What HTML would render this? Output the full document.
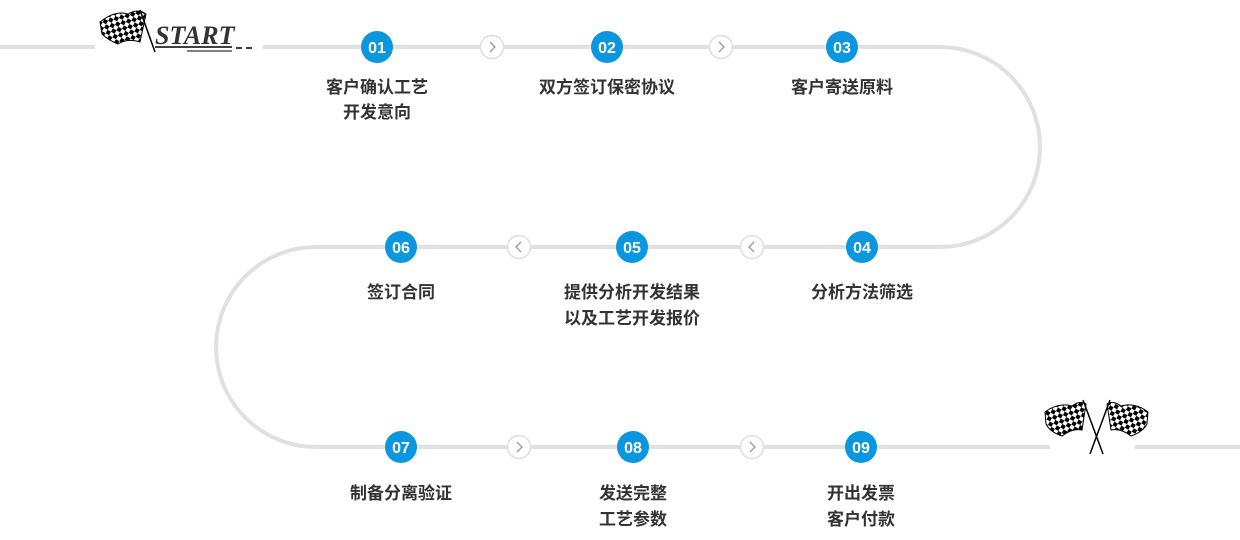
<!DOCTYPE html>
<html><head><meta charset="utf-8"><style>
html,body{margin:0;padding:0;background:#fff;width:1240px;height:540px;overflow:hidden}
svg{display:block}
.n{font-family:"Liberation Sans",sans-serif;font-weight:bold;font-size:16px;fill:#fff}
.t{font-family:"Liberation Sans","Noto Sans CJK SC",sans-serif;font-size:17px;fill:#333;font-weight:bold}
</style></head><body>
<svg width="1240" height="540" viewBox="0 0 1240 540">
<defs>
<pattern id="ck" width="8" height="8" patternUnits="userSpaceOnUse" patternTransform="rotate(30)">
<rect width="8" height="8" fill="#fff"/><rect width="4" height="4" fill="#000"/><rect x="4" y="4" width="4" height="4" fill="#000"/>
</pattern>
</defs>
<g fill="none" stroke="#e0e0e0" stroke-width="4">
<path d="M0 47H95M263 47H940A100 100 0 0 1 940 247H316A100 100 0 0 0 316 447H1050M1135 447H1240"/>
</g>
<path d="M100 22 Q115 10 128 14 Q138 8 146 14 L140 42 Q128 38 118 44 Q108 40 102 34 Z" fill="url(#ck)" stroke="#000" stroke-width="1"/>
<line x1="140" y1="10" x2="155" y2="52" stroke="#000" stroke-width="1.5"/>
<text x="155" y="44" font-family="Liberation Serif,serif" font-style="italic" font-weight="bold" font-size="26" fill="#333">START</text>
<line x1="155" y1="47" x2="232" y2="47" stroke="#000" stroke-width="1.5"/>
<line x1="187" y1="51" x2="232" y2="51" stroke="#000" stroke-width="1"/>
<line x1="236" y1="48" x2="242" y2="48" stroke="#000" stroke-width="1.5"/>
<line x1="246" y1="48" x2="252" y2="48" stroke="#000" stroke-width="1.5"/>
<path d="M1045 412 Q1058 402 1072 406 Q1080 400 1086 404 L1082 430 Q1072 428 1062 436 Q1050 432 1046 424 Z" fill="url(#ck)" stroke="#000" stroke-width="1"/>
<path d="M1148 412 Q1135 402 1121 406 Q1113 400 1107 404 L1111 430 Q1121 428 1131 436 Q1143 432 1147 424 Z" fill="url(#ck)" stroke="#000" stroke-width="1"/>
<line x1="1083" y1="400" x2="1103" y2="454" stroke="#000" stroke-width="1.5"/>
<line x1="1110" y1="400" x2="1090" y2="454" stroke="#000" stroke-width="1.5"/>
<g fill="#fff" stroke="#ddd" stroke-width="1.5">
<circle cx="492" cy="47" r="11.5"/><circle cx="721" cy="47" r="11.5"/>
<circle cx="752" cy="247" r="11.5"/><circle cx="519" cy="247" r="11.5"/>
<circle cx="519" cy="447" r="11.5"/><circle cx="752" cy="447" r="11.5"/>
</g>
<g fill="none" stroke="#999" stroke-width="1.3">
<path d="M490 42l5 5-5 5M719 42l5 5-5 5M750 452l5-5-5-5M517 452l5-5-5-5"/>
<path d="M754 242l-5 5 5 5M521 242l-5 5 5 5"/>
</g>
<g fill="#0b97e0">
<circle cx="377" cy="47" r="16"/><circle cx="607" cy="47" r="16"/><circle cx="842" cy="47" r="16"/>
<circle cx="862" cy="247" r="16"/><circle cx="632" cy="247" r="16"/><circle cx="401" cy="247" r="16"/>
<circle cx="401" cy="447" r="16"/><circle cx="633" cy="447" r="16"/><circle cx="861" cy="447" r="16"/>
</g>
<g text-anchor="middle">
<text x="377" y="53" class="n">01</text><text x="607" y="53" class="n">02</text><text x="842" y="53" class="n">03</text>
<text x="862" y="253" class="n">04</text><text x="632" y="253" class="n">05</text><text x="401" y="253" class="n">06</text>
<text x="401" y="453" class="n">07</text><text x="633" y="453" class="n">08</text><text x="861" y="453" class="n">09</text>
</g>
<g text-anchor="middle">
<text class="t" x="377" y="93">客户确认工艺</text><text class="t" x="377" y="118">开发意向</text>
<text class="t" x="607" y="93">双方签订保密协议</text>
<text class="t" x="842" y="93">客户寄送原料</text>
<text class="t" x="862" y="298">分析方法筛选</text>
<text class="t" x="632" y="298">提供分析开发结果</text><text class="t" x="632" y="324">以及工艺开发报价</text>
<text class="t" x="401" y="298">签订合同</text>
<text class="t" x="401" y="499">制备分离验证</text>
<text class="t" x="633" y="499">发送完整</text><text class="t" x="633" y="525">工艺参数</text>
<text class="t" x="861" y="499">开出发票</text><text class="t" x="861" y="525">客户付款</text>
</g>
</svg>
</body></html>
